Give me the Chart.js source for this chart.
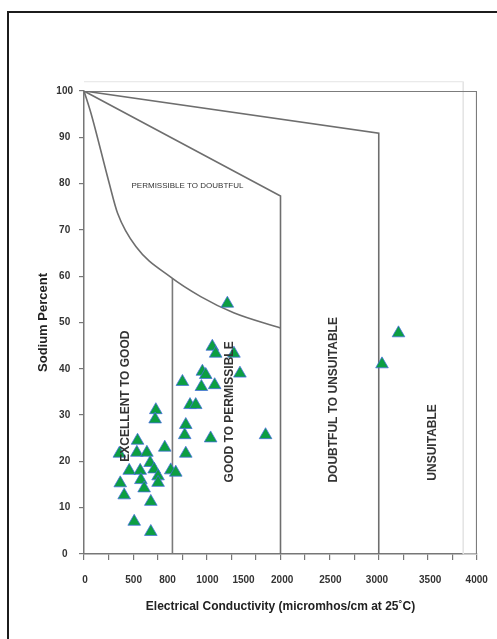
<!DOCTYPE html>
<html>
<head>
<meta charset="utf-8">
<script src="https://cdn.jsdelivr.net/npm/chart.js@4.4.0/dist/chart.umd.min.js"></script>
<style>
  html, body { margin: 0; padding: 0; background: #fff; }
  #wrap { position: relative; width: 497px; height: 639px; overflow: hidden; }
  #frame { position: absolute; left: 7px; top: 11px; width: 600px; height: 700px; border: 2px solid #1c1c1c; }
  canvas { position: absolute; left: 0; top: 0; }
</style>
</head>
<body>
<div id="wrap"><div id="frame"></div><canvas id="chart" width="497" height="639"></canvas></div>
<script>
// water samples: EC (micromhos/cm) and sodium percent
const sampleEC = [1459, 1306, 1340, 1526, 1205, 1239, 1587, 1002, 1195, 1330, 1079, 1137, 731, 724,
  1036, 1025, 1289, 1848, 1036, 545, 538, 640, 822, 673, 460, 572, 714, 883, 934, 754, 579, 369,
  754, 612, 409, 680, 511, 680, 360, 3201, 3033];
const sampleNa = [54.1, 44.8, 43.3, 43.3, 39.4, 38.7, 39.0, 37.2, 36.1, 36.5, 32.2, 32.2, 31.1, 29.1,
  27.9, 25.7, 25.0, 25.7, 21.7, 24.5, 21.9, 21.9, 23.0, 19.7, 18.0, 18.0, 18.3, 18.1, 17.6, 16.8, 16.0, 15.3,
  15.4, 14.2, 12.7, 11.3, 7.0, 4.8, 21.7, 47.7, 41.0];

// Wilcox class boundaries
const frameEC = [0, 4000, 4000];
const frameNa = [100, 100, 0];
const unsuitEC = [0, 3000, 3000];
const unsuitNa = [100, 90.9, 0];
const doubtEC = [0, 2000, 2000];
const doubtNa = [100, 77.3, 0];
const curveEC = [0, 71, 254, 342, 528, 883, 1188, 1523, 2000];
const curveNa = [100, 95.2, 80.3, 73.6, 66.4, 59.8, 55.6, 52.1, 48.8];
const goodEC = [900, 900];
const goodNa = [59.5, 0];
const faintEC = [0, 3860, 3860, 4000];
const faintNa = [102, 102, 0, 0];

// x tick labels (as printed on the original axis)
const xTickText = ['0', '500', '800', '1000', '1500', '2000', '2500', '3000', '3500', '4000'];
const xTickAt = [10, 505, 850, 1256, 1624, 2017, 2508, 2982, 3523, 3997];

const pts = (xs, ys) => xs.map((v, i) => ({ x: v, y: ys[i] }));
const FONT = '"Liberation Sans", Arial, sans-serif';

const lineSet = (xs, ys, color, width, extra) => Object.assign({
  data: pts(xs, ys),
  showLine: true,
  borderColor: color,
  borderWidth: width,
  pointRadius: 0,
  fill: false,
  tension: 0
}, extra || {});

const zoneText = {
  id: 'zoneText',
  afterDatasetsDraw(chart) {
    const { ctx, scales: { x, y } } = chart;
    ctx.save();
    ctx.fillStyle = '#333';
    ctx.textAlign = 'center';
    ctx.textBaseline = 'middle';
    ctx.font = '8px ' + FONT;
    ctx.fillText('PERMISSIBLE TO DOUBTFUL', x.getPixelForValue(1053), y.getPixelForValue(79.5));
    ctx.font = 'bold 12px ' + FONT;
    [['EXCELLENT TO GOOD', 426, 34.1], ['GOOD TO PERMISSIBLE', 1482, 30.7],
     ['DOUBTFUL TO UNSUITABLE', 2543, 33.3], ['UNSUITABLE', 3553, 24.1]].forEach(([t, ec, na]) => {
      ctx.save();
      ctx.translate(x.getPixelForValue(ec), y.getPixelForValue(na));
      ctx.rotate(-Math.PI / 2);
      ctx.fillText(t, 0, 0);
      ctx.restore();
    });
    ctx.restore();
  }
};

new Chart(document.getElementById('chart'), {
  type: 'scatter',
  data: {
    datasets: [
      {
        data: pts(sampleEC, sampleNa),
        pointStyle: 'triangle',
        pointRadius: 7.3,
        backgroundColor: '#0c9e42',
        borderColor: 'rgba(70,110,225,0.75)',
        borderWidth: 1
      },
      lineSet(curveEC, curveNa, '#6e6e6e', 1.6, { cubicInterpolationMode: 'monotone' }),
      lineSet(goodEC, goodNa, '#7a7a7a', 1.6),
      lineSet(doubtEC, doubtNa, '#6e6e6e', 1.6),
      lineSet(unsuitEC, unsuitNa, '#6e6e6e', 1.6),
      lineSet(frameEC, frameNa, '#7c7c7c', 2.2),
      lineSet(faintEC, faintNa, '#e4e4e4', 1, { clip: false })
    ]
  },
  options: {
    responsive: false,
    animation: false,
    events: [],
    layout: { padding: { left: 10, right: 20, top: 91, bottom: 20 } },
    plugins: { legend: { display: false }, tooltip: { enabled: false } },
    scales: {
      x: {
        type: 'linear', position: 'bottom', weight: 0,
        min: 0, max: 4000,
        ticks: { stepSize: 250, display: false },
        grid: { drawOnChartArea: false, drawTicks: true, tickLength: 6, color: '#777', lineWidth: 1.2 },
        border: { color: '#777', width: 1.5 },
        afterFit: s => { s.height = 6; s.paddingLeft = 0; s.paddingRight = 0; }
      },
      xl: {
        type: 'linear', position: 'bottom', weight: 1,
        min: 0, max: 4000,
        afterBuildTicks: s => { s.ticks = xTickAt.map(v => ({ value: v })); },
        ticks: {
          autoSkip: false, maxRotation: 0, padding: 14,
          color: '#333', font: { family: FONT, size: 10, weight: 'bold' },
          callback: (v, i) => xTickText[i]
        },
        grid: { display: false, drawTicks: false },
        border: { display: false },
        title: {
          display: true,
          text: 'Electrical Conductivity (micromhos/cm at 25˚C)',
          color: '#222',
          font: { family: FONT, size: 12, weight: 'bold' },
          padding: { top: 0, bottom: 5 }
        },
        afterFit: s => { s.height = 59; s.paddingLeft = 0; s.paddingRight = 0; }
      },
      y: {
        min: 0, max: 100,
        ticks: {
          stepSize: 10, padding: 6, crossAlign: 'center',
          color: '#333', font: { family: FONT, size: 10, weight: 'bold' }
        },
        grid: { drawOnChartArea: false, tickLength: 5, color: '#777', lineWidth: 1.2 },
        border: { color: '#777', width: 1.5 },
        title: {
          display: true,
          text: 'Sodium Percent',
          color: '#222',
          font: { family: FONT, size: 13, weight: 'bold' },
          padding: { top: 26, bottom: 0 }
        },
        afterFit: s => { s.width = 74; }
      }
    }
  },
  plugins: [zoneText]
});
</script>
</body>
</html>
